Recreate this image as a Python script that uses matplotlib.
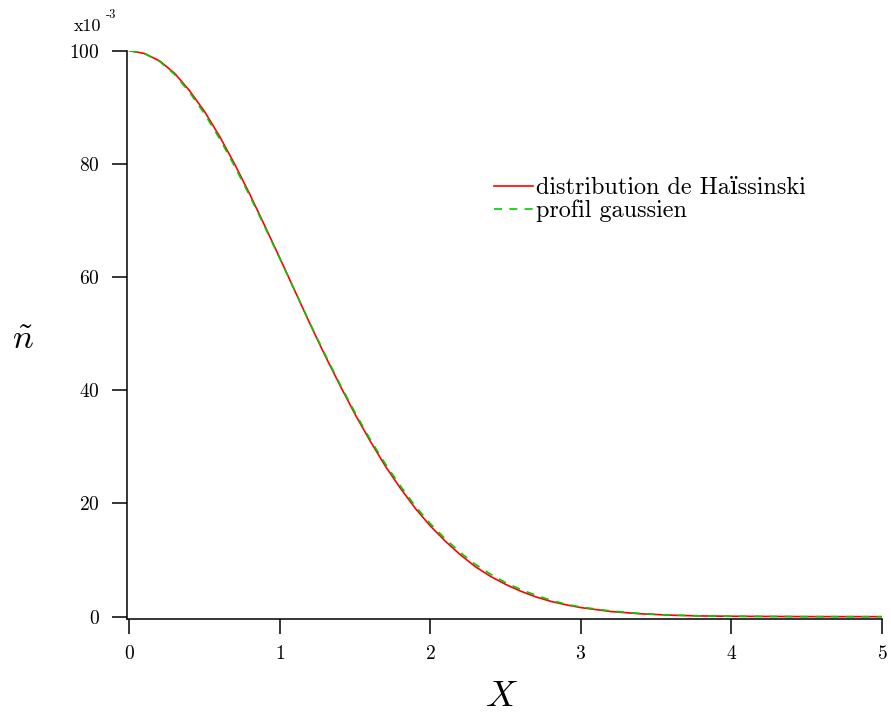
import numpy as np
import matplotlib
matplotlib.use('Agg')
import matplotlib.pyplot as plt

plt.rcParams['font.family'] = ['cmr10', 'DejaVu Serif']
plt.rcParams['mathtext.fontset'] = 'cm'
plt.rcParams['axes.formatter.use_mathtext'] = True

# values (n tilde in units of 1e-3)
X = [0.0, 0.1, 0.2, 0.3, 0.4, 0.5, 0.6, 0.7, 0.8, 0.9, 1.0,
     1.1, 1.2, 1.3, 1.4, 1.5, 1.6, 1.7, 1.8, 1.9, 2.0,
     2.1, 2.2, 2.3, 2.4, 2.5, 2.6, 2.7, 2.8, 2.9, 3.0,
     3.2, 3.4, 3.6, 3.8, 4.0, 4.5, 5.0]
n_haissinski = [100.0, 99.5, 98.2, 96.0, 92.9, 89.2, 84.8, 79.9, 74.6, 69.0, 63.3,
                57.5, 51.7, 46.1, 40.8, 35.7, 31.0, 26.6, 22.7, 19.1, 16.0,
                13.3, 10.9, 8.8, 7.1, 5.7, 4.5, 3.5, 2.7, 2.1, 1.6,
                0.9, 0.5, 0.26, 0.13, 0.07, 0.01, 0.0]
n_gauss = [100.0, 99.5, 98.1, 95.8, 92.6, 88.8, 84.4, 79.5, 74.3, 68.8, 63.2,
           57.5, 51.8, 46.3, 41.0, 36.0, 31.3, 27.0, 23.1, 19.5, 16.4,
           13.7, 11.3, 9.2, 7.5, 6.0, 4.8, 3.8, 2.9, 2.2, 1.7,
           1.0, 0.55, 0.28, 0.14, 0.07, 0.01, 0.0]

fig = plt.figure(figsize=(8.91, 7.15), dpi=100)
ax = fig.add_axes([126.7/891, 1-619/715, (882-126.7)/891, (619-50.7)/715])

ax.plot(X, n_haissinski, color='#ff0000', lw=1.2, label='distribution de Haïssinski')
ax.plot(X, n_gauss, color='#00cc00', lw=1.2, dashes=(4.8, 4.4), label='profil gaussien')

ax.set_xlim(-0.0186, 5)
ax.set_ylim(-0.41, 100)
ax.set_xticks([0, 1, 2, 3, 4, 5])
ax.set_yticks([0, 20, 40, 60, 80, 100])
ax.spines['top'].set_visible(False)
ax.spines['right'].set_visible(False)
for s in ['left', 'bottom']:
    ax.spines[s].set_linewidth(1.1)
ax.tick_params(direction='out', length=11, width=1.1, labelsize=14)
ax.tick_params(axis='y', pad=8.5)
ax.tick_params(axis='x', pad=8)

# axis multiplier
fig.text(74/891, 1-30.7/715, 'x10', fontsize=13, ha='left', va='baseline')
fig.text(106/891, 1-18.5/715, '-3', fontsize=9, ha='left', va='baseline')

fig.text(23/891, 1-340/715, r'$\tilde{n}$', fontsize=25, ha='center', va='center')
fig.text(501/891, 1-697/715, r'$X$', fontsize=26, ha='center', va='center')

ax.legend(loc='upper left', bbox_to_anchor=(494/891, 1-177/715), bbox_transform=fig.transFigure,
          frameon=False, fontsize=17.4, handlelength=1.62, handletextpad=0.12,
          labelspacing=0.03, borderpad=0, borderaxespad=0)

fig.savefig('out.png', dpi=100)
